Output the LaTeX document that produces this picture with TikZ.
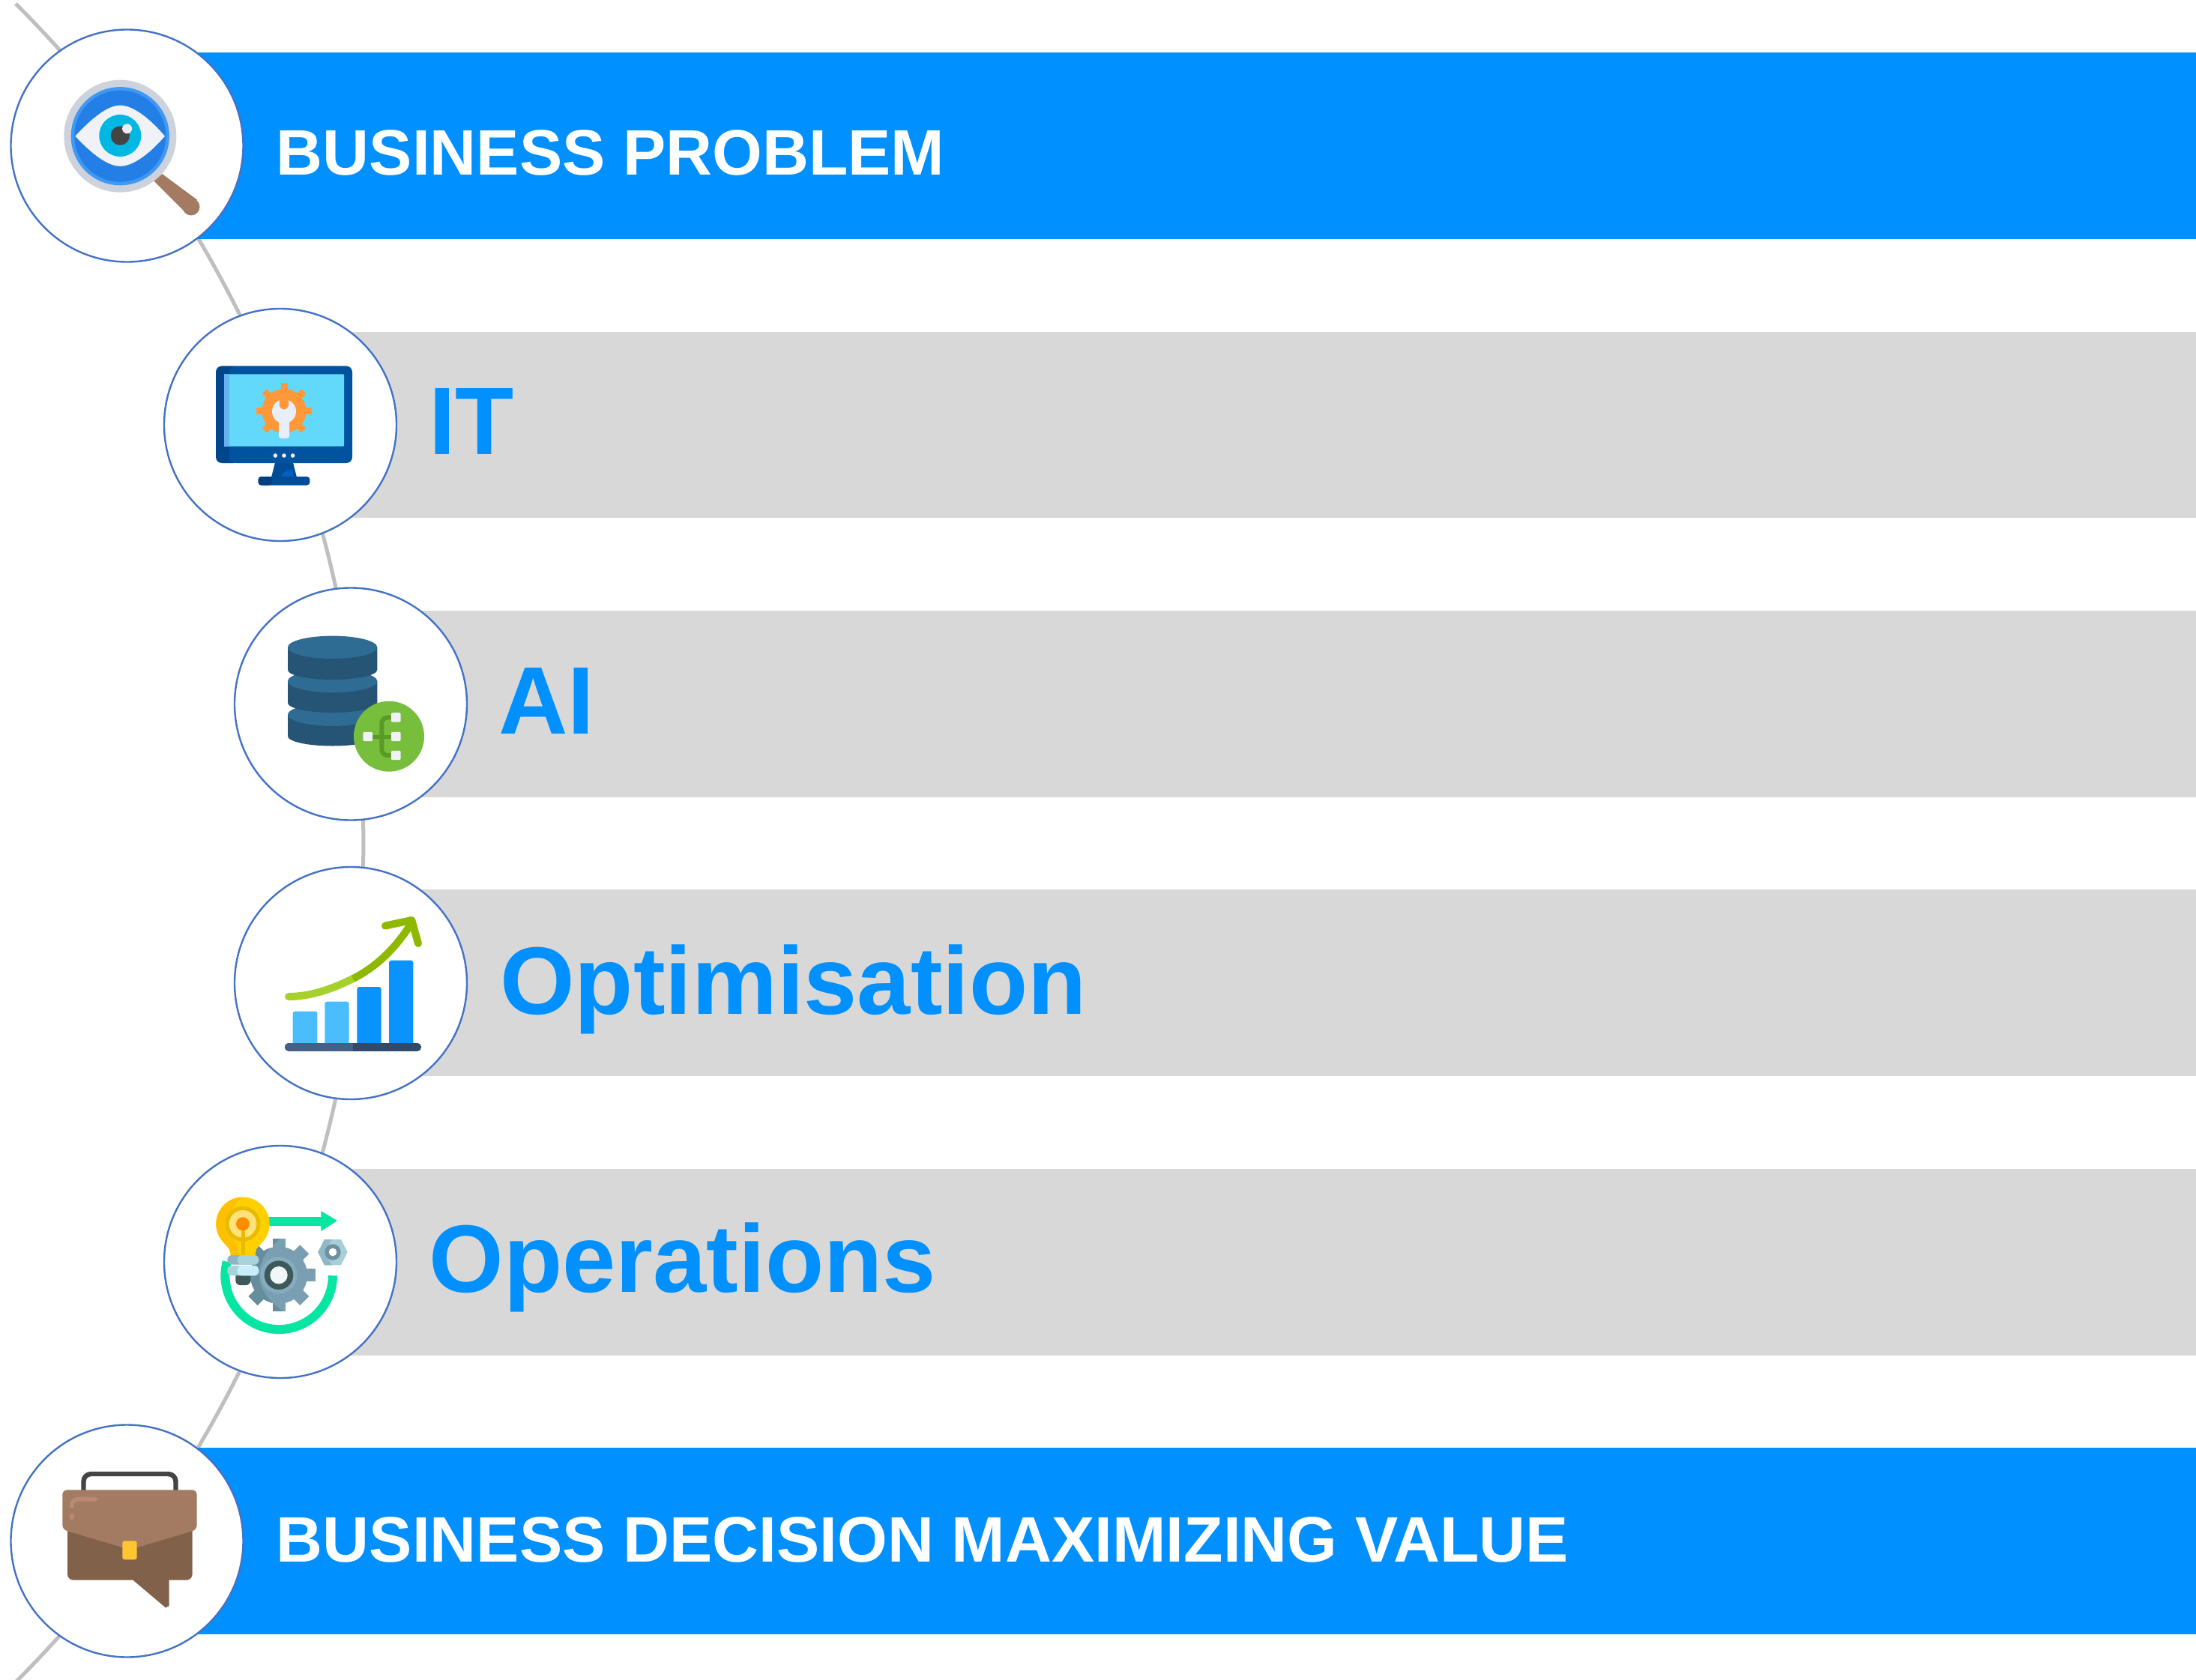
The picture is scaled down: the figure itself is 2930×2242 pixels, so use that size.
\documentclass[tikz,border=0pt]{standalone}
\usepackage{fontspec}
\setmainfont{Liberation Sans}
\definecolor{barblue}{HTML}{0090FF}
\definecolor{bargray}{HTML}{D8D8D8}
\definecolor{ringblue}{HTML}{4472C4}
\definecolor{arcgray}{HTML}{BFBFBF}
\definecolor{brownA}{HTML}{A37A62}
\definecolor{brownB}{HTML}{82614B}
\definecolor{brownC}{HTML}{B98A73}
\definecolor{lensgray}{HTML}{CDD2DC}
\definecolor{lensA}{HTML}{3E99F5}
\definecolor{lensB}{HTML}{237FE6}
\definecolor{paper}{HTML}{F0F2F7}
\definecolor{iris}{HTML}{00B8E3}
\definecolor{coal}{HTML}{444444}
\definecolor{monA}{HTML}{02539F}
\definecolor{monB}{HTML}{01468A}
\definecolor{monC}{HTML}{004C97}
\definecolor{monD}{HTML}{003F80}
\definecolor{monE}{HTML}{005EC4}
\definecolor{screen}{HTML}{62D9FA}
\definecolor{screenB}{HTML}{67B1EF}
\definecolor{icewhite}{HTML}{E8EFFA}
\definecolor{orangeG}{HTML}{FF9838}
\definecolor{dbA}{HTML}{265475}
\definecolor{dbB}{HTML}{2E6C93}
\definecolor{leaf}{HTML}{76BE3C}
\definecolor{leafD}{HTML}{5A9A26}
\definecolor{skyA}{HTML}{4ABDFF}
\definecolor{skyB}{HTML}{0A92FF}
\definecolor{navyA}{HTML}{455F87}
\definecolor{navyB}{HTML}{32496A}
\definecolor{limeA}{HTML}{A6D12B}
\definecolor{limeB}{HTML}{8FB900}
\definecolor{mint}{HTML}{05E6A3}
\definecolor{steelA}{HTML}{7B9FB2}
\definecolor{steelB}{HTML}{668D9C}
\definecolor{steelC}{HTML}{86ADBF}
\definecolor{steelD}{HTML}{3E5959}
\definecolor{steelE}{HTML}{F0F6FA}
\definecolor{nutA}{HTML}{A6D0D8}
\definecolor{nutB}{HTML}{8FB8C4}
\definecolor{nutC}{HTML}{6F919F}
\definecolor{bulbA}{HTML}{FFD000}
\definecolor{bulbB}{HTML}{FFC000}
\definecolor{bulbC}{HTML}{E8BB00}
\definecolor{bulbD}{HTML}{FFE27A}
\definecolor{bulbE}{HTML}{FF8C00}
\definecolor{capA}{HTML}{8FB5C3}
\definecolor{capB}{HTML}{A9D3DB}
\definecolor{capC}{HTML}{C8EEFC}
\definecolor{clasp}{HTML}{FFC533}
\tikzset{
  hub/.style={circle,draw=ringblue,line width=1.2pt,fill=white,minimum size=155pt,inner sep=0pt},
  bluebar/.style={fill=barblue},
  graybar/.style={fill=bargray},
  whitelabel/.style={anchor=base west,inner sep=0pt,text=white,font=\fontsize{42.9}{44}\selectfont\bfseries},
  bluelabel/.style={anchor=base west,inner sep=0pt,text=barblue,font=\fontsize{64}{64}\selectfont\bfseries},
}
% gear teeth: x, y, tooth tip radius, tooth width in px, colour
\newcommand{\gearteeth}[5]{%
  \foreach \a in {0,45,...,315}{\draw[line width=#4*0.5pt,#5] (#1,#2) -- ++(\a:#3);}%
}
\begin{document}
\begin{tikzpicture}[x=1pt,y=1pt,yscale=-1,scale=0.5]
\useasboundingbox (0,0) rectangle (2930,2242);
\begin{scope}
\clip (0,0) rectangle (2930,2242);
\coordinate (arcstart) at (21,5);
\draw[arcgray,line width=2.5pt] (arcstart) arc[start angle=-45,end angle=45,radius=1583.7];
\end{scope}
% bars
\fill[bluebar] (170,70) rectangle (2930,319);
\fill[graybar] (374,443) rectangle (2930,691);
\fill[graybar] (468,815) rectangle (2930,1064);
\fill[graybar] (468,1187) rectangle (2930,1436);
\fill[graybar] (374,1560) rectangle (2930,1808.7);
\fill[bluebar] (170,1932) rectangle (2930,2181);
% hubs
\node[hub] (h1) at (169.5,194.5) {};
\node[hub] (h2) at (374,567) {};
\node[hub] (h3) at (468,939.5) {};
\node[hub] (h4) at (468,1312) {};
\node[hub] (h5) at (374,1684) {};
\node[hub] (h6) at (169.5,2056.5) {};
% labels
\node[whitelabel] (t1) at (368.5,234) {BUSINESS PROBLEM};
\node[bluelabel] (t2) at (572,606.5) {IT};
\node[bluelabel] (t3) at (665,979) {AI};
\node[bluelabel] (t4) at (667,1353) {Optimisation};
\node[bluelabel] (t5) at (572.5,1724.5) {Operations};
\node[whitelabel] (t6) at (368.5,2084) {BUSINESS DECISION MAXIMIZING VALUE};

% ---- icon 1: magnifier and eye
\fill[brownA] (204.5,240.7) -- (216.5,232.2) -- (263,266.6) -- (248,284) -- cycle;
\fill[brownA] (255,276) circle (11.5);
\fill[lensgray] (160.3,181.7) circle (75);
\fill[lensA] (160.3,181.7) circle (65.6);
\fill[lensB] (160.3,181.7) circle (61);
\fill[paper] (100.4,181.7) .. controls (125,155) and (145,140.6) .. (160.3,140.6) .. controls (176,140.6) and (197,155) .. (220,181.7) .. controls (197,208) and (176,221.8) .. (160.3,221.8) .. controls (145,221.8) and (125,208) .. cycle;
\fill[iris] (160.3,181) circle (28);
\fill[coal] (160.3,181) circle (12.7);
\fill[white!93!black] (169.6,171.8) circle (6.5);

% ---- icon 2: monitor
\fill[monC] (367.4,616) -- (390.6,616) -- (396,637) -- (362,637) -- cycle;
\fill[monE] (376,637) .. controls (376,630) and (382,627) .. (390,627) -- (393,637) -- cycle;
\fill[monC,rounded corners=2pt] (344.6,636) rectangle (413.4,647.5);
\fill[monD,rounded corners=2pt] (344.6,636) rectangle (363,647.5);
\fill[monB,rounded corners=4pt] (288,488.4) rectangle (320,618);
\fill[monA,rounded corners=4pt] (306,488.4) rectangle (470,618);
\fill[screen,rounded corners=0.5pt] (299,499.3) rectangle (459,595.5);
\fill[screenB] (299,499.3) rectangle (306,595.5);
\foreach \dx in {367.4,379,390.6}{\fill[icewhite] (\dx,608) circle (2.8);}
\gearteeth{379}{548.4}{37}{9}{orangeG}
\fill[orangeG] (379,548.4) circle (29.5);
\fill[icewhite] (379,549) circle (16);
\fill[icewhite,rounded corners=1.5pt] (372,549) rectangle (386,585);
\fill[orangeG,rounded corners=1pt] (372.8,530) -- (385.2,530) -- (385.2,543) -- (379,547.5) -- (372.8,543) -- cycle;

% ---- icon 3: database
\foreach \cy/\bot in {953.7/995.5,909/951,863.8/907}{
  \fill[dbA] (384,\cy) -- (503.3,\cy) -- (503.3,\bot-13) arc[start angle=0,end angle=180,x radius=59.65,y radius=13] -- cycle;
  \fill[dbB] (443.65,\cy) ellipse (59.65 and 15.2);
}
\fill[leaf] (519,982.7) circle (47);
\draw[line width=2.5pt,leafD] (492,983) -- (528,983);
\draw[line width=3pt,rounded corners=4pt,leafD] (526,957.4) -- (509.3,957.4) -- (509.3,1008) -- (526,1008);
\foreach \tx/\ty in {490.7/983,528.3/957.4,528.3/983,528.3/1008}{
  \fill[paper,rounded corners=1pt] (\tx-6.4,\ty-6.2) rectangle (\tx+6.4,\ty+6.2);
}

% ---- icon 4: chart
\fill[skyA,rounded corners=1.5pt] (390.7,1349.5) rectangle (423.3,1400);
\fill[skyA,rounded corners=1.5pt] (433.3,1336.7) rectangle (465.7,1400);
\fill[skyB,rounded corners=1.5pt] (476.3,1317) rectangle (508.7,1400);
\fill[skyB,rounded corners=1.5pt] (519,1281.6) rectangle (551.3,1400);
\fill[navyB,rounded corners=2.5pt] (380,1392) rectangle (562,1402.8);
\fill[navyA,rounded corners=2.5pt] (380,1392) rectangle (480,1402.8);
\fill[navyB] (471,1392) rectangle (490,1402.8);
\draw[line width=5pt,line cap=round,limeA] (385,1330) .. controls (415,1330) and (445,1319) .. (471,1306);
\draw[line width=5pt,limeB] (471,1306) .. controls (505,1289) and (530,1262) .. (549,1232);
\draw[line width=5pt,line cap=round,line join=round,limeB] (514,1235.5) -- (549.3,1228) -- (558,1259);

% ---- icon 5: operations
\draw[line width=6pt,mint] (444,1702.3) arc[start angle=0,end angle=195,radius=71.8];
\draw[line width=6pt,mint] (345,1630) -- (430,1630);
\fill[mint] (428.3,1616) -- (450,1629) -- (428.3,1643) -- cycle;
\gearteeth{372}{1701.7}{48.5}{17}{steelA}
\fill[steelA] (372,1701.7) circle (38);
\begin{scope}
\clip (378,1650) .. controls (335,1680) and (335,1722) .. (378,1750) -- (300,1750) -- (300,1650) -- cycle;
\gearteeth{372}{1701.7}{48.5}{17}{steelB}
\fill[steelB] (372,1701.7) circle (38);
\end{scope}
\fill[steelC] (372,1701.7) circle (24.5);
\fill[steelD] (372,1701.7) circle (19.3);
\fill[steelE] (372,1701.7) circle (11.7);
\fill[nutA] (424.3,1671) -- (433,1654) -- (455,1654) -- (463.7,1671) -- (455,1688.3) -- (433,1688.3) -- cycle;
\fill[nutB] (424.3,1671) -- (433,1654) -- (443,1654) .. controls (434,1665) and (434,1678) .. (443,1688.3) -- (433,1688.3) -- cycle;
\fill[nutC] (444,1671) circle (10.7);
\fill[white] (444,1671) circle (5.3);
% bulb
\fill[steelD,rounded corners=3pt] (314.3,1698) rectangle (334.3,1715);
\fill[bulbA] (324,1633.3) circle (35.7);
\fill[bulbA] (296,1655) -- (306,1667) -- (308.5,1677) -- (340,1677) -- (342,1667) -- (352,1655) -- cycle;
\begin{scope}
\clip (288,1596) -- (324,1597) .. controls (305,1610) and (300,1640) .. (312,1655) .. controls (318,1663) and (318,1670) .. (318,1677) -- (288,1677) -- cycle;
\fill[bulbB] (324,1633.3) circle (35.7);
\fill[bulbB] (296,1655) -- (306,1667) -- (308.5,1677) -- (340,1677) -- (342,1667) -- (352,1655) -- cycle;
\end{scope}
\fill[bulbC] (324,1633.3) circle (23.5);
\fill[bulbD] (324,1633.3) circle (18.3);
\draw[line width=2.5pt,bulbC] (324,1633) -- (324,1676);
\fill[bulbE] (324,1633.3) circle (9);
\fill[capA,rounded corners=3pt] (303.3,1675) rectangle (345.3,1687.7);
\fill[capB,rounded corners=3pt] (316.7,1675) rectangle (345.3,1687.7);
\fill[capB,rounded corners=3pt] (303.3,1689) rectangle (345.3,1702.3);
\fill[capC,rounded corners=3pt] (316.7,1689) rectangle (345.3,1702.3);

% ---- icon 6: briefcase
\draw[line width=3.2pt,rounded corners=5pt,coal] (111.5,1992) -- (111.5,1967) -- (234.5,1967) -- (234.5,1992);
\fill[brownB,rounded corners=4pt] (90,2030) -- (256.7,2030) -- (256.7,2108.7) -- (90,2108.7) -- cycle;
\fill[brownB] (176.7,2108) -- (221,2145.5) -- (225.7,2143) -- (225.7,2108) -- cycle;
\fill[brownA] (90,1988.3) -- (256,1988.3) .. controls (260,1988.3) and (262.7,1991) .. (262.7,1995) -- (262.7,2035) .. controls (262.7,2039) and (260,2042) .. (256.7,2043.3) -- (173.3,2068) -- (90,2043.3) .. controls (86,2042) and (83.3,2039) .. (83.3,2035) -- (83.3,1995) .. controls (83.3,1991) and (86,1988.3) .. (90,1988.3) -- cycle;
\fill[clasp,rounded corners=1.5pt] (163.3,2056.3) rectangle (182.7,2081.3);
\draw[line width=3pt,line cap=round,rounded corners=4pt,brownC] (96,2010) -- (96,2000.7) -- (127,2000.7);
\fill[brownC] (96,2024) ellipse (3.3 and 4.7);
\end{tikzpicture}
\end{document}
